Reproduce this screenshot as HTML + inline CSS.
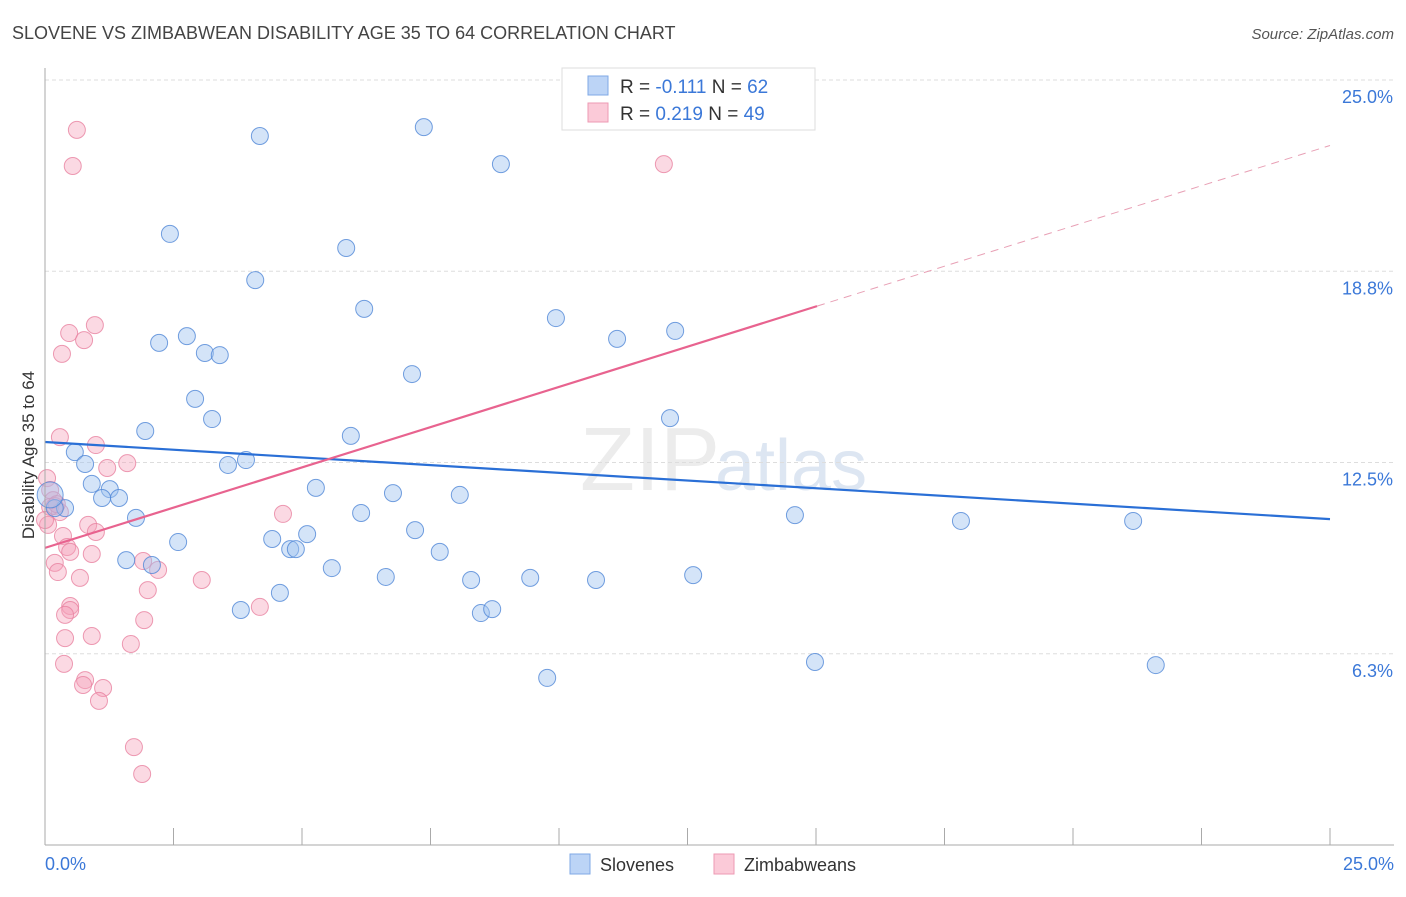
<!DOCTYPE html>
<html><head><meta charset="utf-8"><style>
body{margin:0;background:#fff;font-family:"Liberation Sans",sans-serif;}
svg text{font-family:"Liberation Sans",sans-serif;}
</style></head><body>
<svg id="c" width="1406" height="892">
<text x="12" y="39" font-size="18" fill="#444">SLOVENE VS ZIMBABWEAN DISABILITY AGE 35 TO 64 CORRELATION CHART</text>
<text x="1394" y="39" font-size="15" fill="#555" font-style="italic" text-anchor="end">Source: ZipAtlas.com</text>
<text x="720" y="490" font-size="90" fill="#ececec" text-anchor="end" font-family="Liberation Serif">ZIP</text>
<text x="715" y="490" font-size="72" fill="#dde6f2">atlas</text>
<g id="grid"></g><g id="pts"></g><g id="lines"></g>
<line x1="45" y1="68" x2="45" y2="845" stroke="#aaa"/>
<line x1="45" y1="845" x2="1394" y2="845" stroke="#aaa"/>
<text x="34" y="455" font-size="17" fill="#333" text-anchor="middle" transform="rotate(-90 34 455)">Disability Age 35 to 64</text>
<text x="45" y="870" font-size="18" fill="#3b78d8">0.0%</text>
<text x="1394" y="870" font-size="18" fill="#3b78d8" text-anchor="end">25.0%</text>
<g>
<rect x="562" y="68" width="253" height="62" fill="#fff" stroke="#ddd"/>
<rect x="588" y="76" width="20" height="19" fill="#bcd4f6" stroke="#7fa8e6"/>
<rect x="588" y="103" width="20" height="19" fill="#fbcad8" stroke="#ee9ab3"/>
<text x="620" y="93" font-size="19" fill="#333">R = <tspan fill="#3b78d8">-0.111</tspan>   N = <tspan fill="#3b78d8">62</tspan></text>
<text x="620" y="120" font-size="19" fill="#333">R = <tspan fill="#3b78d8"> 0.219</tspan>   N = <tspan fill="#3b78d8">49</tspan></text>
</g>
<g>
<rect x="570" y="854" width="20" height="20" fill="#bcd4f6" stroke="#7fa8e6"/>
<text x="600" y="871" font-size="18" fill="#333">Slovenes</text>
<rect x="714" y="854" width="20" height="20" fill="#fbcad8" stroke="#ee9ab3"/>
<text x="744" y="871" font-size="18" fill="#333">Zimbabweans</text>
</g>
</svg>
<script>
const yTicks=[25.0,18.75,12.5,6.25];
const yTickLabels=["25.0%","18.8%","12.5%","6.3%"];
const xTicks=[0,2.5,5,7.5,10,12.5,15,17.5,20,22.5,25];
const blueX=[13.81,4.18,7.37,8.87,2.43,5.86,4.09,6.21,9.94,11.13,12.26,2.22,2.76,3.11,3.40,7.14,2.92,3.25,12.16,1.95,5.95,0.58,0.78,3.56,3.91,0.91,1.26,1.11,1.44,5.27,6.77,8.07,0.39,0.19,1.77,6.15,14.59,17.82,21.17,7.20,5.10,4.42,4.77,4.88,7.68,1.58,2.59,2.08,5.58,6.63,8.29,9.44,10.72,12.61,4.57,3.81,8.48,8.70,14.98,21.61,9.77,0.10];
const blueY=[25.0,23.17,23.46,22.25,19.97,19.51,18.46,17.52,17.22,16.54,16.80,16.41,16.63,16.08,16.01,15.39,14.58,13.92,13.95,13.53,13.37,12.84,12.45,12.42,12.58,11.80,11.63,11.34,11.34,11.67,11.50,11.44,11.01,11.01,10.69,10.85,10.78,10.59,10.59,10.29,10.16,10.0,9.67,9.67,9.58,9.31,9.90,9.15,9.05,8.76,8.66,8.73,8.66,8.82,8.24,7.68,7.58,7.71,5.98,5.88,5.46,11.44];
const pinkX=[0.62,0.54,12.04,0.97,0.47,0.76,0.33,0.29,0.99,1.60,1.21,0.04,0.10,0.16,0.19,0.29,0.06,0.84,0.99,0.35,0.43,0.49,0.91,0.19,0.25,1.91,2.20,0.68,3.05,2.00,0.49,0.49,0.39,1.93,4.63,4.18,0.39,0.91,1.67,0.37,0.78,0.74,1.13,1.05,1.73,1.89,0.10,0.23,0.0];
const pinkY=[23.37,22.19,22.25,16.99,16.73,16.50,16.05,13.33,13.07,12.48,12.32,11.99,11.60,11.27,11.08,10.88,10.46,10.46,10.23,10.10,9.74,9.58,9.51,9.22,8.92,9.28,8.99,8.73,8.66,8.33,7.81,7.68,7.52,7.35,10.82,7.78,6.76,6.83,6.57,5.92,5.39,5.23,5.13,4.71,3.20,2.32,11.05,11.14,10.62];
const blueTrend=[13.17,10.65];
const pinkTrend=[9.71,22.86];
const pinkSolidEnd=15.02;
const X=v=>45+v*51.4, Y=v=>845-v*30.6;
const NS='http://www.w3.org/2000/svg';
function mk(t,a,p){const e=document.createElementNS(NS,t);for(const k in a)e.setAttribute(k,a[k]);p.appendChild(e);return e;}
const grid=document.getElementById('grid');
yTicks.forEach((t,i)=>{
 const l=mk('line',{x1:45,x2:1394,y1:Y(t),y2:Y(t),stroke:'#ddd','stroke-dasharray':'4 3'},grid);
 
 
 const tx=mk('text',{x:1393,y:Y(t)+23,'font-size':18,fill:'#3b78d8','text-anchor':'end'},grid);
 tx.textContent=yTickLabels[i];
 
 
});
xTicks.forEach(t=>{
 const l=mk('line',{x1:X(t),x2:X(t),y1:828,y2:845,stroke:'#aaa'},grid);
 
 
});
const pts=document.getElementById('pts');
pinkX.forEach((x,i)=>{
 const c=mk('circle',{cx:X(x),cy:Y(pinkY[i]),r:8.5,fill:'rgba(246,160,186,0.4)',stroke:'rgba(232,130,160,0.8)','stroke-width':1},pts);
 
 
});
blueX.forEach((x,i)=>{
 const c=mk('circle',{cx:X(x),cy:Y(blueY[i]),r:i==blueX.length-1?13:8.5,fill:'rgba(160,196,240,0.45)',stroke:'rgba(80,135,215,0.8)','stroke-width':1},pts);
 
 
});
const lines=document.getElementById('lines');
const b=mk('line',{x1:X(0),y1:Y(blueTrend[0]),x2:X(25),y2:Y(blueTrend[1]),stroke:'#2a6fd6','stroke-width':2.2},lines);


const pv=x=>pinkTrend[0]+(pinkTrend[1]-pinkTrend[0])*x/25;
const p=mk('line',{x1:X(0),y1:Y(pv(0)),x2:X(pinkSolidEnd),y2:Y(pv(pinkSolidEnd)),stroke:'#e8638f','stroke-width':2.2},lines);


const pd=mk('line',{x1:X(pinkSolidEnd),y1:Y(pv(pinkSolidEnd)),x2:X(25),y2:Y(pv(25)),stroke:'#e8a0b5','stroke-width':1,'stroke-dasharray':'8 6'},lines);


</script>
</body></html>
